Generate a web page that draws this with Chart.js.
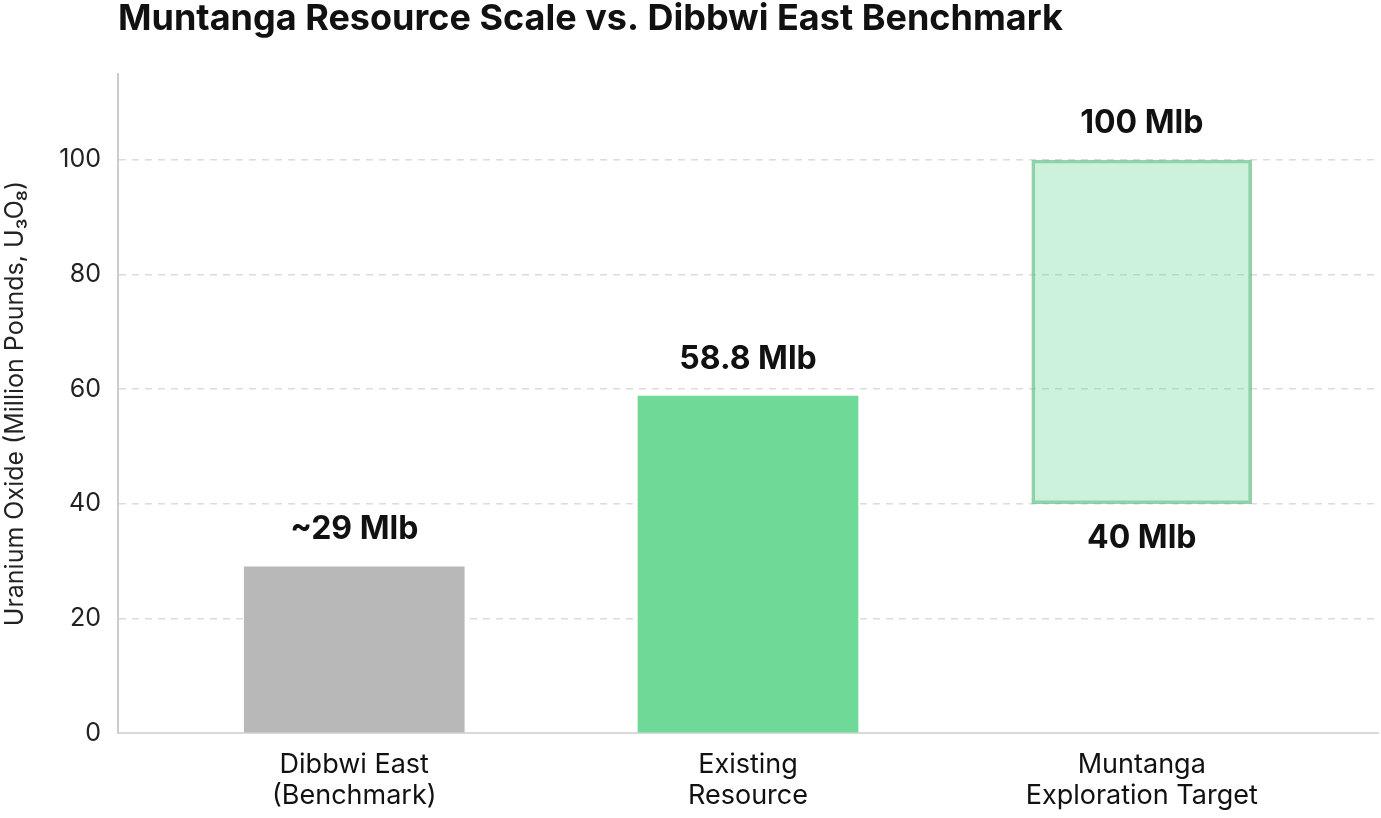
<!DOCTYPE html>
<html>
<head>
<meta charset="utf-8">
<script src="https://cdn.jsdelivr.net/npm/chart.js@4/dist/chart.umd.min.js"></script>
<style>
html,body{margin:0;padding:0;background:#fff;}
#wrap{width:1381px;height:818px;position:relative;}
</style>
</head>
<body>
<div id="wrap"><canvas id="c" width="1381" height="818"></canvas></div>
<script>
const chartTitle = "Muntanga Resource Scale vs. Dibbwi East Benchmark";
const categories = [["Dibbwi East", "(Benchmark)"], ["Existing", "Resource"], ["Muntanga", "Exploration Target"]];
const barLow = [0, 0, 40];
const barHigh = [29, 58.8, 100];
const labelsTop = ["~29 Mlb", "58.8 Mlb", "100 Mlb"];
const labelsBottom = [null, null, "40 Mlb"];
const yTicks = [0, 20, 40, 60, 80, 100];
const yTitle = "Uranium Oxide (Million Pounds, U\u2083O\u2088)";

const FONT = "Inter, 'Noto Sans', sans-serif";

const data = categories.map((c, i) => ({ x: i, y: [barLow[i], barHigh[i]] }));

const titlePlugin = {
  id: 'customTitle',
  afterDraw(chart) {
    const ctx = chart.ctx;
    ctx.save();
    ctx.font = "bold 36px " + FONT;
    ctx.fillStyle = "#111";
    ctx.textAlign = "left";
    ctx.textBaseline = "middle";
    ctx.fillText(chartTitle, 118, 19);
    ctx.restore();
  }
};

const valueLabels = {
  id: 'valueLabels',
  afterDatasetsDraw(chart) {
    const ctx = chart.ctx;
    const meta = chart.getDatasetMeta(0);
    const ys = chart.scales.y;
    ctx.save();
    ctx.font = "bold 32px " + FONT;
    ctx.fillStyle = "#111";
    ctx.textAlign = "center";
    ctx.textBaseline = "middle";
    meta.data.forEach((bar, i) => {
      const x = bar.x;
      if (labelsTop[i]) ctx.fillText(labelsTop[i], x, ys.getPixelForValue(barHigh[i]) - 37);
      if (labelsBottom[i]) ctx.fillText(labelsBottom[i], x, ys.getPixelForValue(barLow[i]) + 35);
    });
    ctx.restore();
  }
};

new Chart(document.getElementById('c'), {
  type: 'bar',
  data: {
    datasets: [{
      data: data,
      backgroundColor: ['#b8b8b8', '#6fd998', 'rgba(111,217,152,0.35)'],
      borderColor: ['rgba(0,0,0,0)', 'rgba(0,0,0,0)', 'rgba(100,190,135,0.7)'],
      borderWidth: [0, 0, 3],
      borderSkipped: false,
      barThickness: 220
    }]
  },
  options: {
    responsive: false,
    animation: false,
    layout: { padding: { top: 74, right: 3, bottom: 0, left: 0 } },
    plugins: { legend: { display: false }, tooltip: { enabled: false }, title: { display: false } },
    scales: {
      x: {
        type: 'linear',
        offset: false,
        min: -0.6,
        max: 2.6,
        afterBuildTicks(scale) { scale.ticks = categories.map((c, i) => ({ value: i })); },
        afterFit(scale) { scale.height = 85; },
        ticks: {
          callback: (v) => categories[v] || '',
          font: { family: FONT, size: 27, lineHeight: 1.15 },
          color: '#111',
          padding: 8,
          maxRotation: 0,
          autoSkip: false
        },
        grid: { display: false, offset: false },
        border: { display: true, color: '#d9d9d9', width: 2 }
      },
      y: {
        min: 0,
        max: 115,
        afterBuildTicks(scale) { scale.ticks = yTicks.map(v => ({ value: v })); },
        afterFit(scale) { scale.width = 118; },
        ticks: {
          font: { family: FONT, size: 25 },
          color: '#222',
          padding: 17
        },
        grid: { color: '#dcdcdc', lineWidth: 1.5, drawTicks: false },
        border: { display: true, color: '#cccccc', width: 2, dash: [7, 6] },
        title: {
          display: true,
          text: yTitle,
          font: { family: FONT, size: 25 },
          color: '#222',
          padding: { top: 0, bottom: 0 }
        }
      }
    }
  },
  plugins: [titlePlugin, valueLabels]
});
</script>
</body>
</html>
